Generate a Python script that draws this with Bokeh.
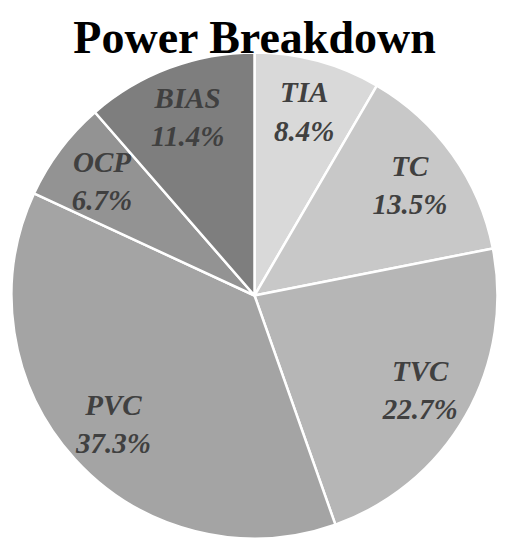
import numpy as np
from bokeh.plotting import figure
from bokeh.models import Range1d, ColumnDataSource
from bokeh.core.properties import value
from bokeh.embed import file_html
from bokeh.resources import INLINE

title = "Power Breakdown"
categories = ["TIA", "TC", "TVC", "PVC", "OCP", "BIAS"]
percents = [8.4, 13.5, 22.7, 37.3, 6.7, 11.4]
colors = ["#d9d9d9", "#c8c8c8", "#b6b6b6", "#a4a4a4", "#939393", "#7e7e7e"]

W, H = 509, 550
cx, cy, R = 254, 255, 243
label_frac = 0.785

vals = np.array(percents) / sum(percents)
cum = np.concatenate([[0], np.cumsum(vals)])
start = np.pi / 2 - 2 * np.pi * cum[:-1]
end = np.pi / 2 - 2 * np.pi * cum[1:]
mid = (start + end) / 2
lx = cx + label_frac * R * np.cos(mid)
ly = cy + label_frac * R * np.sin(mid)
labels = [f"{c}\n{v:.1f}%" for c, v in zip(categories, percents)]

src = ColumnDataSource(dict(start=start, end=end, color=colors, lx=lx, ly=ly, label=labels))

p = figure(width=W, height=H, output_backend="svg", toolbar_location=None,
           x_range=Range1d(0, W), y_range=Range1d(0, H), min_border=0)
p.axis.visible = False
p.grid.visible = False
p.outline_line_color = None

p.wedge(x=cx, y=cy, radius=R, start_angle="start", end_angle="end", direction="clock",
        fill_color="color", line_color="white", line_width=2.5, source=src)

p.text(x="lx", y="ly", text="label", source=src, text_align="center", text_baseline="middle",
       text_font=value("Liberation Serif"), text_font_style="bold italic",
       text_font_size="29px", text_color="#404040", text_line_height=1.2)

p.text(x=[W / 2], y=[H - 37], text=[title], text_align="center", text_baseline="alphabetic",
       text_font=value("Liberation Serif"), text_font_style="bold",
       text_font_size="46px", text_color="black")

open("out.html", "w").write(file_html(p, INLINE))
